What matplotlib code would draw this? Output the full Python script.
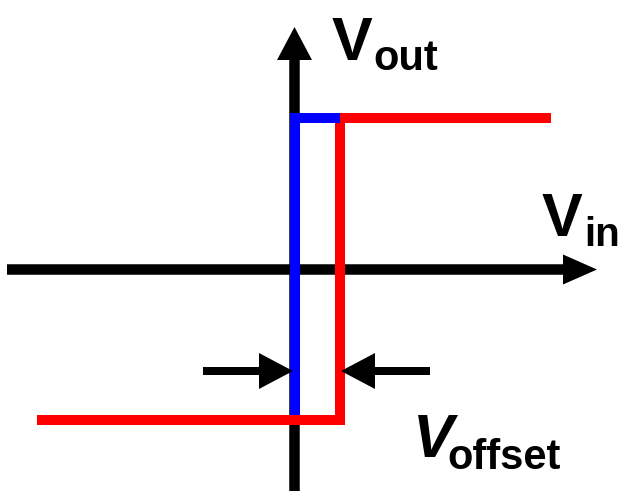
import matplotlib
matplotlib.use("Agg")
import matplotlib.pyplot as plt
from matplotlib.patches import FancyArrow

# Transfer-curve traces (pixel-like diagram coordinates, y grows downward)
blue_x = [294.5, 294.5, 340]
blue_y = [415, 118, 118]
red_x = [37, 339.5, 339.5, 551]
red_y = [420, 420, 118, 118]

# Axes of the diagram
xaxis = dict(x0=7, x1=597, y=269.5)
yaxis = dict(x=294.5, y0=491, y1=27)

# Offset indicator arrows (tail x, tip x, y)
left_arrow = (203, 293, 371)
right_arrow = (430, 341, 371)

fig = plt.figure(figsize=(6.21, 4.91), dpi=100)
ax = fig.add_axes([0, 0, 1, 1])
ax.set_xlim(0, 621)
ax.set_ylim(491, 0)
ax.axis("off")

# axes arrows
ax.add_patch(FancyArrow(xaxis["x0"], xaxis["y"], xaxis["x1"] - xaxis["x0"], 0,
                        width=10.5, head_width=30, head_length=34,
                        length_includes_head=True, color="black", lw=0, zorder=1))
ax.add_patch(FancyArrow(yaxis["x"], yaxis["y0"], 0, yaxis["y1"] - yaxis["y0"],
                        width=10.5, head_width=35, head_length=33,
                        length_includes_head=True, color="black", lw=0, zorder=1))

lw = 10 * 72 / 100
ax.plot(red_x, red_y, color="#FF0000", lw=lw, solid_joinstyle="miter",
        solid_capstyle="butt", zorder=2)
ax.plot(blue_x, blue_y, color="#0000FF", lw=lw, solid_joinstyle="miter",
        solid_capstyle="butt", zorder=3)

for tail, tip, y in (left_arrow, right_arrow):
    ax.add_patch(FancyArrow(tail, y, tip - tail, 0, width=8, head_width=36,
                            head_length=34, length_includes_head=True,
                            color="black", lw=0, zorder=4))

fam = ["Liberation Sans", "DejaVu Sans"]
ax.text(332, 60, "V", fontsize=44, fontweight="bold", family=fam, va="baseline", ha="left")
ax.text(373, 70, "out", fontsize=30, fontweight="bold", family=fam, va="baseline", ha="left")
ax.text(542, 236, "V", fontsize=44, fontweight="bold", family=fam, va="baseline", ha="left")
ax.text(584, 246, "in", fontsize=29, fontweight="bold", family=fam, va="baseline", ha="left")
ax.text(413, 457, "V", fontsize=44, fontweight="bold", fontstyle="italic", family=fam,
        va="baseline", ha="left")
ax.text(447, 469, "offset", fontsize=30, fontweight="bold", family=fam, va="baseline", ha="left")

fig.savefig("out.png", dpi=100)
